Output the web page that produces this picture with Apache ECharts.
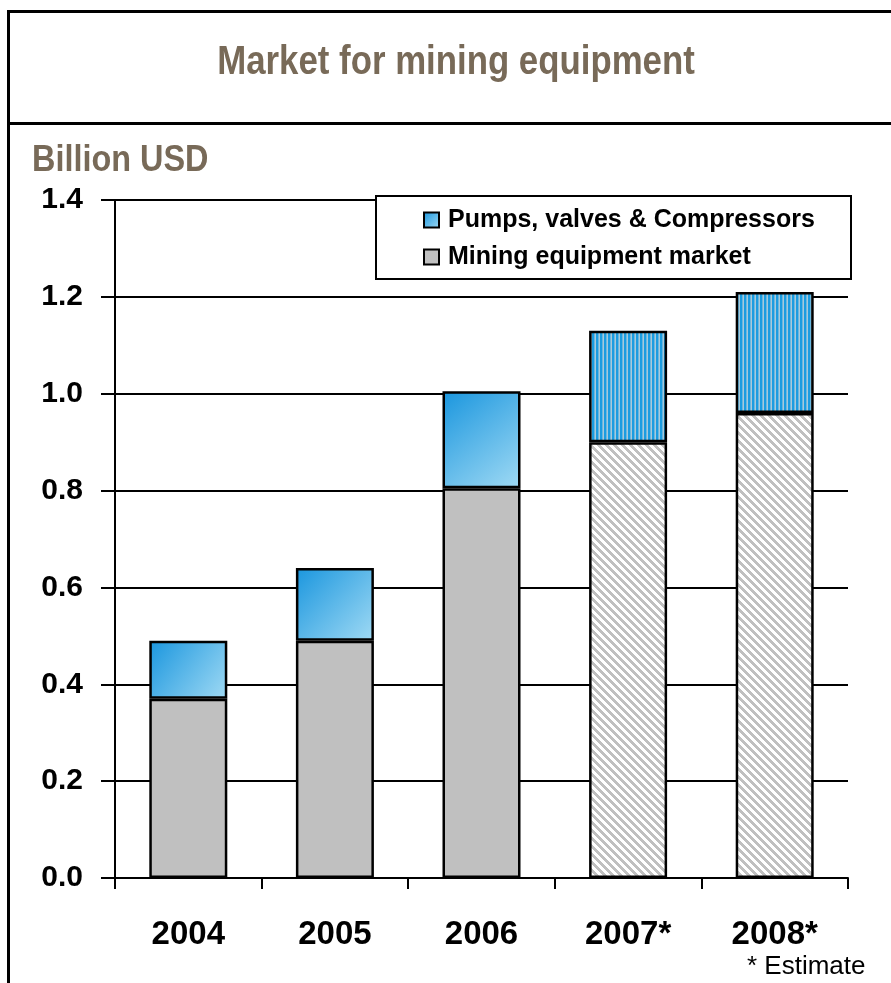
<!DOCTYPE html>
<html>
<head>
<meta charset="UTF-8">
<title>Market for mining equipment</title>
<script src="https://cdn.jsdelivr.net/npm/echarts@6/dist/echarts.min.js"></script>
<style>
	html, body { margin: 0; padding: 0; background: #fff; overflow: hidden; }
	#main { width: 891px; height: 983px; }
</style>
</head>
<body>
<div id="main"></div>
<script>
	// 数据
	var years = ['2004', '2005', '2006', '2007*', '2008*'];
	var miningValues = [0.37, 0.49, 0.805, 0.90, 0.96];
	var pumpsValues = [0.12, 0.15, 0.20, 0.23, 0.25];
	var estimated = [false, false, false, true, true];
	var seriesNames = ['Pumps, valves & Compressors', 'Mining equipment market'];

	var fontFam = "'Liberation Sans', Arial, sans-serif";
	var brown = '#786a58';

	// 斜线填充 (估算值)
	function hatchCanvas() {
		var c = document.createElement('canvas');
		c.width = 8; c.height = 8;
		var ctx = c.getContext('2d');
		ctx.fillStyle = '#ffffff';
		ctx.fillRect(0, 0, 8, 8);
		ctx.fillStyle = '#c0c0c0';
		for (var y = 0; y < 8; y++) {
			for (var x = 0; x < 8; x++) {
				if ((((x - y) % 8) + 8) % 8 < 4) ctx.fillRect(x, y, 1, 1);
			}
		}
		return c;
	}
	// 竖条纹填充
	function stripeCanvas() {
		var c = document.createElement('canvas');
		c.width = 4; c.height = 1;
		var ctx = c.getContext('2d');
		var cols = ['#1b9ce0', '#1b9ce0', '#6ab8e0', '#a8c9da'];
		for (var i = 0; i < 4; i++) {
			ctx.fillStyle = cols[i];
			ctx.fillRect(i, 0, 1, 1);
		}
		return c;
	}
	var hatch = { image: hatchCanvas(), repeat: 'repeat' };
	var stripes = { image: stripeCanvas(), repeat: 'repeat' };
	var blueGrad = new echarts.graphic.LinearGradient(0, 0, 1, 1, [
		{ offset: 0, color: '#1a96de' },
		{ offset: 1, color: '#a0daf4' }
	]);

	var miningData = miningValues.map(function (v, i) {
		return estimated[i] ? { value: v, itemStyle: { color: hatch } } : v;
	});
	var pumpsData = pumpsValues.map(function (v, i) {
		return estimated[i] ? { value: v, itemStyle: { color: stripes } } : v;
	});

	var chart = echarts.init(document.getElementById('main'));
	var option = {
		backgroundColor: '#ffffff',
		animation: false,
		grid: { left: 115, top: 200, width: 733, height: 678 },
		graphic: [
			{ type: 'line', shape: { x1: 8.5, y1: 10, x2: 8.5, y2: 983 }, style: { stroke: '#000', lineWidth: 3 } },
			{ type: 'line', shape: { x1: 7, y1: 11.5, x2: 891, y2: 11.5 }, style: { stroke: '#000', lineWidth: 3 } },
			{ type: 'line', shape: { x1: 7, y1: 123.5, x2: 891, y2: 123.5 }, style: { stroke: '#000', lineWidth: 3 } },
			{
				type: 'text', x: 456, y: 63, scaleX: 0.87,
				style: {
					text: 'Market for mining equipment',
					fill: brown, font: 'bold 40px ' + fontFam,
					align: 'center', verticalAlign: 'middle'
				}
			},
			{
				type: 'text', x: 32, y: 161, scaleX: 0.9,
				style: {
					text: 'Billion USD', fill: brown, font: 'bold 36px ' + fontFam,
					align: 'left', verticalAlign: 'middle'
				}
			},
			{
				type: 'text', x: 747, y: 967,
				style: {
					text: '* Estimate', fill: '#000', font: '26px ' + fontFam,
					align: 'left', verticalAlign: 'middle'
				}
			},
			{
				type: 'rect', z: 3,
				shape: { x: 376, y: 196, width: 475, height: 83 },
				style: { fill: '#fff', stroke: '#000', lineWidth: 2 }
			}
		],
		legend: {
			data: seriesNames,
			orient: 'vertical',
			left: 423,
			top: 207,
			padding: 0,
			z: 5,
			itemWidth: 15,
			itemHeight: 15,
			itemGap: 11,
			icon: 'rect',
			itemStyle: { borderColor: '#000', borderWidth: 2 },
			textStyle: {
				fontFamily: fontFam, fontWeight: 'bold', fontSize: 25, color: '#000',
				lineHeight: 26, padding: [0, 0, 0, 4]
			}
		},
		xAxis: {
			type: 'category',
			data: years,
			axisLine: { lineStyle: { color: '#000', width: 2 } },
			axisTick: { show: true, length: 11, lineStyle: { color: '#000', width: 2 } },
			axisLabel: {
				margin: 40, color: '#000',
				fontFamily: fontFam, fontWeight: 'bold', fontSize: 33
			}
		},
		yAxis: {
			type: 'value',
			min: 0, max: 1.4, interval: 0.2,
			axisLine: { show: true, lineStyle: { color: '#000', width: 2 } },
			axisTick: { show: true, length: 14, lineStyle: { color: '#000', width: 2 } },
			splitLine: { lineStyle: { color: '#000', width: 2 } },
			axisLabel: {
				margin: 32, color: '#000',
				fontFamily: fontFam, fontWeight: 'bold', fontSize: 30,
				formatter: function (v) { return v.toFixed(1); }
			}
		},
		series: [
			{
				name: seriesNames[1], type: 'bar', stack: 'total', barWidth: 78,
				itemStyle: { color: '#c0c0c0', borderColor: '#000', borderWidth: 2.5 },
				data: miningData
			},
			{
				name: seriesNames[0], type: 'bar', stack: 'total', barWidth: 78,
				itemStyle: { color: blueGrad, borderColor: '#000', borderWidth: 2.5 },
				data: pumpsData
			}
		]
	};
	chart.setOption(option);
</script>
</body>
</html>
